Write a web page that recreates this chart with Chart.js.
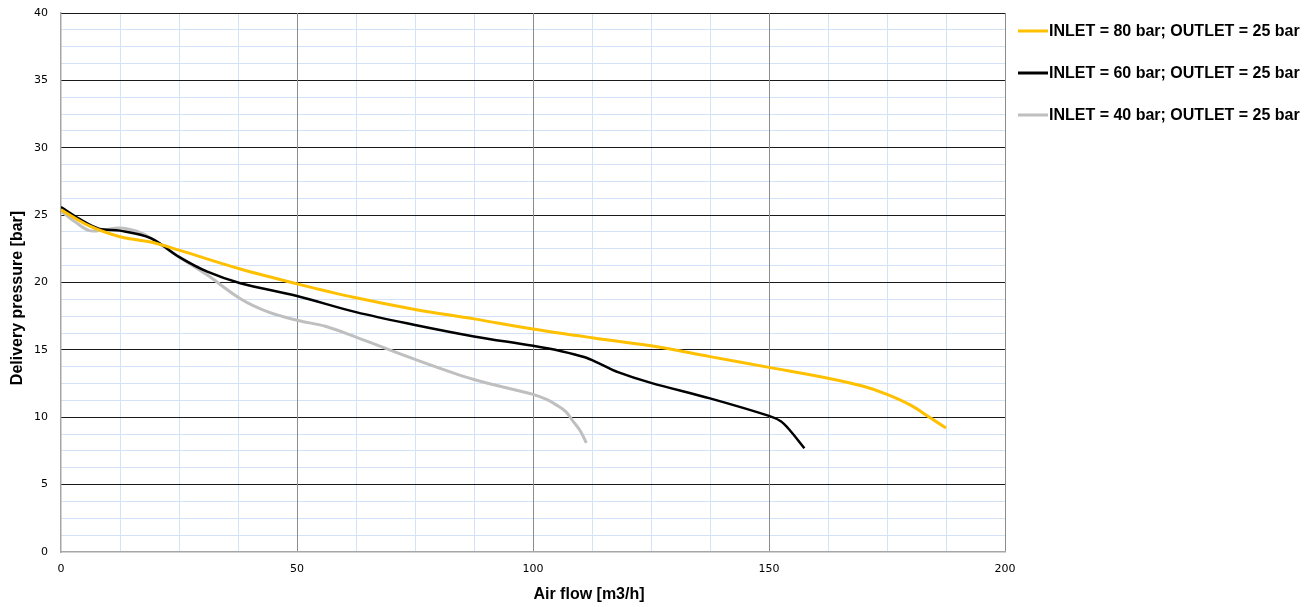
<!DOCTYPE html>
<html>
<head>
<meta charset="utf-8">
<script src="https://cdn.jsdelivr.net/npm/chart.js@4/dist/chart.umd.min.js"></script>
<style>
  html, body { margin: 0; padding: 0; background: #fff; }
  #wrap { width: 1314px; height: 607px; }
</style>
</head>
<body>
<div id="wrap"><canvas id="pumpChart" width="1314" height="607"></canvas></div>
<script>
// Curve data: [air flow m3/h, delivery pressure bar]
const inlet80 = [
  [0, 25.4], [6, 24.2], [12.5, 23.4], [19, 23.0], [25, 22.4], [38, 21.0],
  [50, 19.9], [62, 18.9], [75, 18.0], [87.5, 17.3], [100, 16.55], [112.5, 15.9],
  [125, 15.3], [137.5, 14.5], [150, 13.7], [162.5, 12.9], [170, 12.3],
  [175, 11.7], [180, 10.9], [184, 10.0], [187.5, 9.2]
];
const inlet60 = [
  [0, 25.6], [4, 24.7], [8, 24.0], [12.5, 23.85], [19, 23.3], [25, 21.9],
  [31, 20.8], [38, 19.95], [50, 19.0], [62.5, 17.8], [75, 16.85], [87.5, 16.0],
  [100, 15.3], [106, 14.9], [111, 14.45], [114, 14.0], [118, 13.35], [125, 12.55],
  [137.5, 11.4], [150, 10.1], [152.5, 9.7], [154.5, 9.0], [157.5, 7.7]
];
const inlet40 = [
  [0, 25.3], [3, 24.5], [6, 23.85], [9, 23.9], [12.5, 24.05], [16, 23.8],
  [19, 23.3], [25, 21.9], [31, 20.55], [38, 18.8], [44, 17.8], [50, 17.2],
  [56, 16.75], [62.5, 15.95], [75, 14.3], [87.5, 12.8], [100, 11.7], [103, 11.3],
  [105, 10.9], [107, 10.4], [108.5, 9.7], [110, 9.0], [111.3, 8.1]
];
const seriesLabels = [
  'INLET = 80 bar; OUTLET = 25 bar',
  'INLET = 60 bar; OUTLET = 25 bar',
  'INLET = 40 bar; OUTLET = 25 bar'
];
const seriesColors = ['#ffc000', '#000000', '#bfbfbf'];
const xTitle = 'Air flow [m3/h]';
const yTitle = 'Delivery pressure [bar]';

const toPoints = arr => arr.map(p => ({ x: p[0], y: p[1] }));

const minorColor = '#d3e2f6';
const boldFont = 'bold 16px "Liberation Sans", Arial, sans-serif';
const tickFont = { family: '"DejaVu Sans", Verdana, sans-serif', size: 11 };

// Legend on the right and the axis titles, drawn by hand
const sideLegend = {
  id: 'sideLegend',
  afterDraw(chart) {
    const c = chart.ctx;
    c.save();
    c.font = boldFont;
    c.fillStyle = '#000';
    c.textBaseline = 'middle';
    chart.data.datasets.forEach((ds, i) => {
      const y = 31 + i * 42;
      c.strokeStyle = ds.borderColor;
      c.lineWidth = 3;
      c.beginPath();
      c.moveTo(1018, y);
      c.lineTo(1048, y);
      c.stroke();
      c.textAlign = 'left';
      c.fillText(ds.label, 1049, y + 1);
    });

    // axis titles (offset the same way as in the original)
    c.textAlign = 'center';
    c.fillText(xTitle, 589, 595);
    c.translate(18, 298);
    c.rotate(-Math.PI / 2);
    c.fillText(yTitle, 0, 0);
    c.restore();
  }
};

const ctx = document.getElementById('pumpChart').getContext('2d');
const pumpChart = new Chart(ctx, {
  type: 'scatter',
  data: {
    datasets: [
      { label: seriesLabels[0], data: toPoints(inlet80), borderColor: seriesColors[0], borderWidth: 3 },
      { label: seriesLabels[1], data: toPoints(inlet60), borderColor: seriesColors[1], borderWidth: 2.5 },
      { label: seriesLabels[2], data: toPoints(inlet40), borderColor: seriesColors[2], borderWidth: 3 }
    ].map(ds => Object.assign(ds, { showLine: true, pointRadius: 0, tension: 0.35, fill: false }))
  },
  options: {
    responsive: false,
    animation: false,
    layout: { padding: { left: 0, top: 13, right: 309, bottom: 0 } },
    plugins: { legend: { display: false }, tooltip: { enabled: false } },
    scales: {
      // minor grid + tick labels
      y: {
        type: 'linear',
        min: 0, max: 40,
        afterFit: s => { s.width = 61; s.paddingTop = 0; s.paddingBottom = 0; },
        ticks: {
          stepSize: 1.25,
          autoSkip: false,
          padding: 13,
          color: '#000',
          font: tickFont,
          callback: v => (v % 5 === 0 ? v : '')
        },
        grid: {
          drawTicks: false,
          color: c => (c.tick && c.tick.value % 5 === 0 ? 'rgba(0,0,0,0)' : minorColor),
          lineWidth: 1
        },
        border: { color: '#a6a6a6', width: 1.5 }
      },
      x: {
        type: 'linear',
        min: 0, max: 200,
        afterFit: s => { s.height = 55; s.paddingLeft = 0; s.paddingRight = 0; },
        ticks: {
          stepSize: 12.5,
          autoSkip: false,
          maxRotation: 0,
          padding: 11,
          color: '#000',
          font: tickFont,
          callback: v => (v % 50 === 0 ? v : '')
        },
        grid: {
          drawTicks: false,
          color: c => (c.tick && c.tick.value % 50 === 0 ? 'rgba(0,0,0,0)' : minorColor),
          lineWidth: 1
        },
        border: { color: '#a6a6a6', width: 1.5 }
      },
      // major grid drawn over the minor one
      yMajor: {
        type: 'linear',
        position: 'left',
        min: 0, max: 40,
        afterFit: s => { s.width = 0; s.paddingTop = 0; s.paddingBottom = 0; },
        ticks: { stepSize: 5, display: false },
        grid: {
          drawTicks: false,
          color: c => (c.tick && c.tick.value === 0 ? 'rgba(0,0,0,0)' : '#1a1a1a'),
          lineWidth: 1
        },
        border: { display: false }
      },
      xMajor: {
        type: 'linear',
        position: 'bottom',
        min: 0, max: 200,
        afterFit: s => { s.height = 0; s.paddingLeft = 0; s.paddingRight = 0; },
        ticks: { stepSize: 50, display: false },
        grid: {
          drawTicks: false,
          color: c => (c.tick && c.tick.value === 0 ? 'rgba(0,0,0,0)' : '#8c8c8c'),
          lineWidth: 1
        },
        border: { display: false }
      }
    }
  },
  plugins: [sideLegend]
});
</script>
</body>
</html>
